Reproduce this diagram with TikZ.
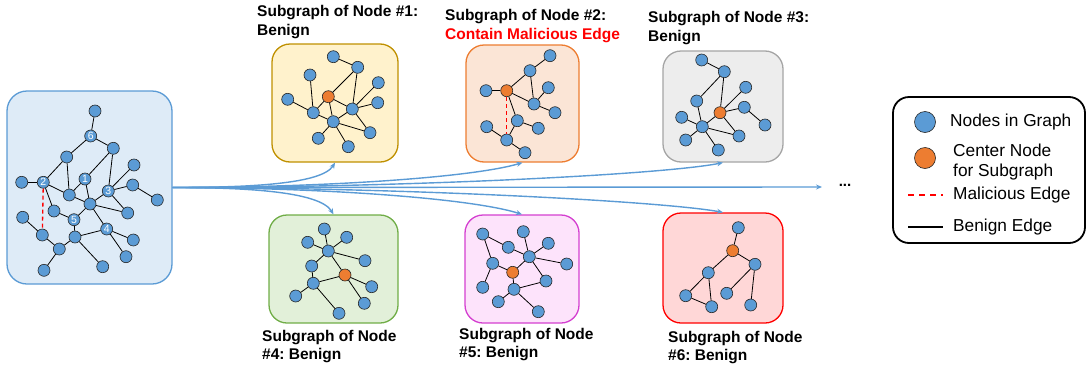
\documentclass[tikz,border=0pt]{standalone}
\usepackage{fontspec}
\setmainfont{Liberation Sans}
\usetikzlibrary{arrows.meta}
\frenchspacing
\definecolor{nodeblue}{HTML}{5B9BD5}
\definecolor{nodeorange}{HTML}{ED7D31}
\definecolor{flowblue}{HTML}{5B9BD5}
\definecolor{mainfill}{HTML}{DEEBF7}
\definecolor{yfill}{HTML}{FFF2CC}\definecolor{ydraw}{HTML}{BF9000}
\definecolor{ofill}{HTML}{FBE5D6}\definecolor{odraw}{HTML}{ED7D31}
\definecolor{gfill}{HTML}{EDEDED}\definecolor{gdraw}{HTML}{A5A5A5}
\definecolor{grfill}{HTML}{E2F0D9}\definecolor{grdraw}{HTML}{70AD47}
\definecolor{pfill}{HTML}{FDE3FB}\definecolor{pdraw}{HTML}{D43FD0}
\definecolor{rfill}{HTML}{FFD7D7}\definecolor{rdraw}{HTML}{FF0000}
\begin{document}
\begin{tikzpicture}[x=1pt,y=-1pt,
  gn/.style={circle, fill=nodeblue, draw=black!85, line width=0.6pt, minimum size=12pt,
    inner sep=0pt, font=\fontsize{10.5}{10.5}\selectfont, text=white},
  cn/.style={gn, fill=nodeorange},
  edge/.style={line width=0.8pt, black},
  bad/.style={line width=1.3pt, red, dash pattern=on 4pt off 3pt},
  panel/.style={rounded corners=18pt, line width=1.3pt, inner sep=0pt},
  flow/.style={line width=1.4pt, flowblue, -{Stealth[length=6pt,width=5pt]}},
  lbl/.style={font=\bfseries\fontsize{15.5}{18.5}\selectfont, align=left, anchor=west, inner sep=0pt},
  legtxt/.style={font=\fontsize{17.3}{20}\selectfont, align=left, anchor=west, inner sep=0pt},
]
\useasboundingbox (0,0) rectangle (1090,370);

% ---------- panels ----------
\node[panel, fill=mainfill, draw=nodeblue, minimum width=165pt, minimum height=193pt, rounded corners=20pt] (main) at (89.5,187.5) {};
\node[panel, fill=yfill, draw=ydraw, minimum width=126pt, minimum height=118pt] (p1) at (335,103) {};
\node[panel, fill=ofill, draw=odraw, minimum width=113pt, minimum height=117pt] (p2) at (522.5,103.5) {};
\node[panel, fill=gfill, draw=gdraw, minimum width=120pt, minimum height=111pt] (p3) at (723,106.5) {};
\node[panel, fill=grfill, draw=grdraw, minimum width=129pt, minimum height=108pt] (p4) at (333.5,269) {};
\node[panel, fill=pfill, draw=pdraw, minimum width=114pt, minimum height=108pt] (p5) at (522,269) {};
\node[panel, fill=rfill, draw=rdraw, minimum width=120pt, minimum height=110pt] (p6) at (723,268) {};

% ---------- full graph ----------
\foreach \n/\px/\py in {a/95/111, b/113.3/148.3, c/66.7/157, d/21.7/182.3, e/69.3/195,
  f/134/165, g/132.7/185, h/157.3/200, k/90/204, m/54/211, p/127.7/213, q/22.7/217.3,
  r/42.3/235, s/75/237, t/133.3/240, u/59.3/249, v/126/256.7, w/44/270.3, x/102.7/266.7}
  \node[gn] (g\n) at (\px,\py) {};
\node[gn] (g6) at (90.7,136) {6};
\node[gn] (g1) at (85,179) {1};
\node[gn] (g2) at (43.3,182.3) {2};
\node[gn] (g3) at (108.3,191) {3};
\node[gn] (g5) at (74,219.7) {5};
\node[gn] (g4) at (106.7,229) {4};
\foreach \u/\v in {a/6, 6/c, 6/b, c/2, c/e, 2/d, 2/e, 2/m, e/1, 1/b, 1/k, e/k, b/3, 3/f,
  3/g, g/h, 3/k, 3/p, k/p, k/5, k/4, m/5, q/r, r/u, 5/s, s/u, s/4, u/w, s/x, 4/t, 4/v}
  \draw[edge] (g\u) -- (g\v);
\draw[bad] (g2) -- (gr);

% ---------- subgraph of node 1 ----------
\foreach \n/\px/\py in {A/333.3/56.7, B/357.7/67.3, C/310/75, D/378.3/82.7, E/287.7/99.3,
  F/377.7/102.7, G/352.3/109, H/313.3/112.7, I/333.3/121.7, J/370/132.7, K/318.3/138.3, L/348.3/146.7}
  \node[gn] (s1\n) at (\px,\py) {};
\node[cn] (s1O) at (328.3,96.7) {};
\foreach \u/\v in {A/B, B/O, B/G, C/H, O/H, O/I, O/G, E/H, G/D, G/F, G/I, G/J, H/I, I/J, I/K, I/L}
  \draw[edge] (s1\u) -- (s1\v);

% ---------- subgraph of node 2 ----------
\foreach \n/\px/\py in {A/550/55.7, B/530/70.7, L/486/90.7, C/548.3/87.7, D/534/104,
  E/555/112.7, F/517.3/120.7, G/538.3/128.3, H/486.7/126.7, I/506.7/140, J/525/152.7}
  \node[gn] (s2\n) at (\px,\py) {};
\node[cn] (s2O) at (506.7,90.7) {};
\foreach \u/\v in {A/B, B/O, B/D, O/L, O/D, O/F, D/C, D/E, F/G, F/I, H/I, I/J}
  \draw[edge] (s2\u) -- (s2\v);
\draw[bad] (s2O) -- (s2I);

% ---------- subgraph of node 3 ----------
\foreach \n/\px/\py in {A/701.7/60, B/724.3/71.7, C/745.7/87.3, D/696.7/101, E/744.3/107.3,
  F/681.7/117.3, G/702.3/126.7, H/765/125, I/739/136, J/685.7/140, K/718.3/150}
  \node[gn] (s3\n) at (\px,\py) {};
\node[cn] (s3O) at (720,112.7) {};
\foreach \u/\v in {A/B, B/D, B/O, D/G, O/C, O/E, O/G, O/I, E/H, F/G, G/I, G/J, G/K}
  \draw[edge] (s3\u) -- (s3\v);

% ---------- subgraph of node 4 ----------
\foreach \n/\px/\py in {A/324.3/229, B/307.7/242.3, C/346.7/237.3, D/328.3/251, E/365/260.7,
  F/311.7/266, G/313.3/283.3, H/371.7/286.7, I/295.7/296, J/364.3/303.3, K/339/313.3}
  \node[gn] (s4\n) at (\px,\py) {};
\node[cn] (s4O) at (345,275) {};
\foreach \u/\v in {A/D, B/D, C/D, D/E, D/F, D/O, F/G, G/O, G/I, G/K, O/H, O/J}
  \draw[edge] (s4\u) -- (s4\v);

% ---------- subgraph of node 5 ----------
\foreach \n/\px/\py in {A/482.7/234, B/523.3/231.7, C/548.3/243.3, D/508.3/247.3, E/529.3/256.7,
  F/492.7/263.3, G/566.7/264, H/546/281, I/482.7/287.3, J/514/289.3, K/498.3/301.7, L/538.3/311.7}
  \node[gn] (s5\n) at (\px,\py) {};
\node[cn] (s5O) at (512.7,272.3) {};
\foreach \u/\v in {A/D, A/F, D/E, B/E, C/E, E/G, E/H, E/O, F/O, F/I, O/J, J/H, J/K, J/L}
  \draw[edge] (s5\u) -- (s5\v);

% ---------- subgraph of node 6 ----------
\foreach \n/\px/\py in {A/738.3/227.7, B/755/264.3, C/708.3/272.7, D/726.7/293.3,
  E/685.7/295.7, F/750.7/305, G/711.7/306.7}
  \node[gn] (s6\n) at (\px,\py) {};
\node[cn] (s6O) at (732.7,250.7) {};
\foreach \u/\v in {A/O, O/B, O/C, B/D, B/F, C/E, C/G, E/G}
  \draw[edge] (s6\u) -- (s6\v);

% ---------- extraction arrows ----------
\coordinate (more) at (822,187);
\draw[flow] (main.east) .. controls (250,187.5) and (322,184) .. (p1.south);
\draw[flow] (main.east) .. controls (320,187.5) and (470,178) .. (p2.south);
\draw[flow] (main.east) .. controls (400,187.5) and (660,175) .. (p3.south);
\draw[flow] (main.east) -- (more);
\draw[flow] (main.east) .. controls (250,187.5) and (320,192) .. (p4.north);
\draw[flow] (main.east) .. controls (320,187.5) and (470,198) .. (p5.north);
\draw[flow] (main.east) .. controls (400,187.5) and (660,201) .. (p6.north);
\node[font=\bfseries\fontsize{15}{15}\selectfont, inner sep=0pt] (dots) at (845,185) {...};

% ---------- captions ----------
\node[lbl] (t1) at (257,22) {Subgraph of Node \#1:\\Benign};
\node[lbl] (t2) at (445,26) {Subgraph of Node \#2:\\\textcolor{red}{Contain Malicious Edge}};
\node[lbl] (t3) at (648,28) {Subgraph of Node \#3:\\Benign};
\node[lbl] (t4) at (262,346.5) {Subgraph of Node\\\#4: Benign};
\node[lbl] (t5) at (459,344.5) {Subgraph of Node\\\#5: Benign};
\node[lbl] (t6) at (668,347.5) {Subgraph of Node\\\#6: Benign};

% ---------- legend ----------
\node[panel, draw=black, line width=1.8pt, fill=white, minimum width=192pt, minimum height=146pt,
  rounded corners=16pt] (leg) at (989,170) {};
\node[gn, minimum size=21pt] (lg1) at (925,122) {};
\node[cn, minimum size=21pt] (lg2) at (925,158) {};
\node[legtxt] (lt1) at (950,122) {Nodes in Graph};
\node[legtxt] (lt2) at (953,162) {Center Node\\for Subgraph};
\coordinate (lm1) at (908,195); \coordinate (lm2) at (943,195);
\draw[red, line width=2pt, dash pattern=on 6pt off 5pt] (lm1) -- (lm2);
\node[legtxt] (lt3) at (953,195) {Malicious Edge};
\coordinate (lb1) at (908,227); \coordinate (lb2) at (943,227);
\draw[black, line width=1.8pt] (lb1) -- (lb2);
\node[legtxt] (lt4) at (953,227) {Benign Edge};
\end{tikzpicture}
\end{document}
